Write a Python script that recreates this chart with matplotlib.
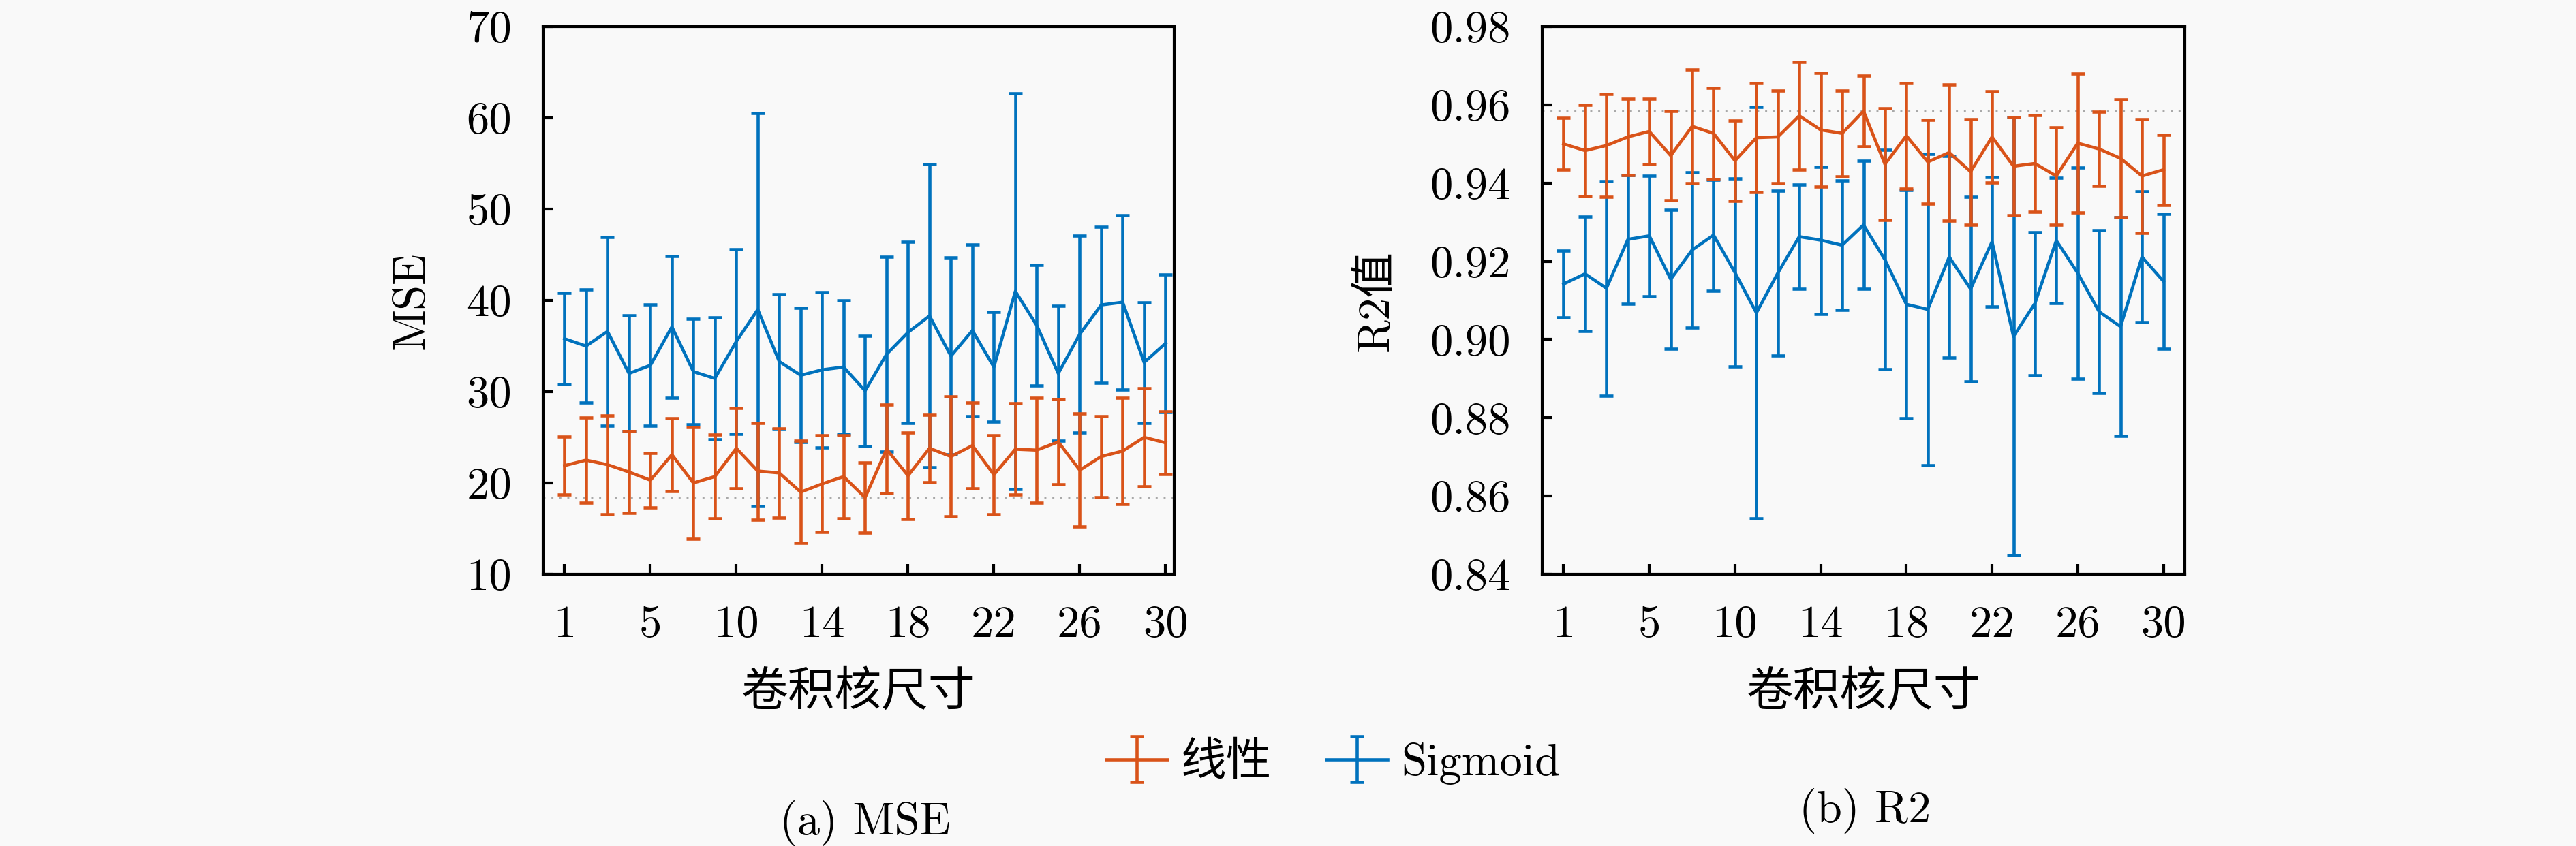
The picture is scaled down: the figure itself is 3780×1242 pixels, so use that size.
import matplotlib
matplotlib.use("Agg")
import matplotlib.pyplot as plt
import numpy as np

#Fonts: Computer Modern for latin, CJK fallback for the Chinese labels
plt.rcParams['font.family'] = ['cmr10', 'Noto Sans CJK SC']
plt.rcParams['mathtext.fontset'] = 'cm'
plt.rcParams['axes.unicode_minus'] = False
plt.rcParams['axes.formatter.use_mathtext'] = True

#Data
#--------------------------------------------------------
kernel_pos = np.arange(1, 30)
tick_pos = [1, 5, 9, 13, 17, 21, 25, 29]
tick_labels = ['1', '5', '10', '14', '18', '22', '26', '30']

mse_lin_mean = [21.9, 22.5, 22.0, 21.2, 20.3, 23.1, 20.0, 20.7, 23.8, 21.3,
                21.1, 19.0, 19.9, 20.7, 18.4, 23.7, 20.8, 23.8, 22.9, 24.1,
                20.9, 23.7, 23.6, 24.5, 21.4, 22.9, 23.5, 25.0, 24.4]
mse_lin_std = [3.2, 4.7, 5.4, 4.5, 3.0, 4.0, 6.1, 4.6, 4.4, 5.3,
               4.9, 5.6, 5.3, 4.55, 3.85, 4.85, 4.75, 3.7, 6.55, 4.7,
               4.35, 5.0, 5.75, 4.65, 6.2, 4.45, 5.85, 5.35, 3.45]
mse_sig_mean = [35.8, 35.0, 36.6, 32.0, 32.9, 37.1, 32.2, 31.45, 35.5, 39.0,
                33.3, 31.8, 32.4, 32.7, 30.1, 34.1, 36.5, 38.3, 33.9, 36.7,
                32.7, 41.0, 37.25, 32.0, 36.3, 39.5, 39.8, 33.2, 35.3]
mse_sig_std = [5.0, 6.2, 10.35, 6.35, 6.65, 7.75, 5.75, 6.7, 10.1, 21.5,
               7.4, 7.35, 8.5, 7.3, 6.05, 10.7, 9.9, 16.6, 10.8, 9.4,
               6.0, 21.7, 6.6, 7.4, 10.8, 8.55, 9.55, 6.6, 7.55]

r2_lin_mean = [0.9500, 0.9483, 0.9496, 0.9518, 0.9532, 0.9470, 0.9545, 0.9527,
               0.9457, 0.9516, 0.9518, 0.9572, 0.9536, 0.9527, 0.9584, 0.9448,
               0.9521, 0.9454, 0.9478, 0.9429, 0.9518, 0.9443, 0.9450, 0.9418,
               0.9502, 0.9487, 0.9463, 0.9418, 0.9434]
r2_lin_std = [0.0066, 0.0116, 0.0132, 0.0097, 0.0083, 0.0114, 0.0145, 0.0117,
              0.0103, 0.0139, 0.0119, 0.0138, 0.0146, 0.0110, 0.0090, 0.0143,
              0.0135, 0.0107, 0.0174, 0.0135, 0.0117, 0.0125, 0.0123, 0.0125,
              0.0177, 0.0095, 0.0150, 0.0145, 0.0090]
r2_sig_mean = [0.9142, 0.9168, 0.9131, 0.9256, 0.9265, 0.9154, 0.9229, 0.9267,
               0.9171, 0.9068, 0.9170, 0.9263, 0.9254, 0.9241, 0.9293, 0.9204,
               0.9090, 0.9077, 0.9211, 0.9129, 0.9250, 0.9008, 0.9092, 0.9253,
               0.9170, 0.9071, 0.9033, 0.9211, 0.9149]
r2_sig_std = [0.0085, 0.0147, 0.0274, 0.0165, 0.0154, 0.0177, 0.0199, 0.0142,
              0.0240, 0.0526, 0.0211, 0.0133, 0.0188, 0.0165, 0.0164, 0.0280,
              0.0292, 0.0398, 0.0258, 0.0236, 0.0166, 0.0560, 0.0183, 0.0160,
              0.0270, 0.0208, 0.0279, 0.0167, 0.0173]

mse_yticks = [10, 20, 30, 40, 50, 60, 70]
r2_yticks = [0.84, 0.86, 0.88, 0.90, 0.92, 0.94, 0.96, 0.98]

lin_color = '#D95319'
sig_color = '#0072BD'
bg = '#f9f9f9'
fs = 16

#Figure
#--------------------------------------------------------
W, H = 3780, 1242
fig = plt.figure(figsize=(W / 300, H / 300), dpi=300, facecolor=bg)
ax1 = fig.add_axes([797 / W, 1 - 843 / H, 926 / W, 804 / H], facecolor=bg)
ax2 = fig.add_axes([2263 / W, 1 - 843 / H, 943 / W, 804 / H], facecolor=bg)

def draw(ax, lin_m, lin_s, sig_m, sig_s, best, yticks, ylabels, ylabel, xlim):
    ax.axhline(best, color='#a8a8a8', lw=0.7, ls=(0, (1, 3)), zorder=1)
    hs = ax.errorbar(kernel_pos, sig_m, yerr=sig_s, color=sig_color, lw=1.1,
                     elinewidth=1.1, capsize=2.3, capthick=1.1, zorder=2)
    hl = ax.errorbar(kernel_pos, lin_m, yerr=lin_s, color=lin_color, lw=1.1,
                     elinewidth=1.1, capsize=2.3, capthick=1.1, zorder=3)
    ax.set_xlim(*xlim)
    ax.set_ylim(yticks[0], yticks[-1])
    ax.set_xticks(tick_pos)
    ax.set_xticklabels(tick_labels, fontsize=fs)
    ax.set_yticks(yticks)
    ax.set_yticklabels(ylabels, fontsize=fs)
    ax.tick_params(direction='in', length=3.6, width=1.0, top=False,
                   right=False, pad=11)
    for s in ax.spines.values():
        s.set_linewidth(1.0)
    ax.set_xlabel('卷积核尺寸', fontsize=fs + 0.5, va='center')
    ax.xaxis.set_label_coords(0.5, -0.216)
    ax.set_ylabel(ylabel, fontsize=fs, va='center')
    return hl, hs

hl, hs = draw(ax1, mse_lin_mean, mse_lin_std, mse_sig_mean, mse_sig_std,
              min(mse_lin_mean), mse_yticks, [str(v) for v in mse_yticks],
              'MSE', (0, 29.4))
ax1.yaxis.set_label_coords(-0.207, 0.5)

draw(ax2, r2_lin_mean, r2_lin_std, r2_sig_mean, r2_sig_std,
     max(r2_lin_mean), r2_yticks, ['%.2f' % v for v in r2_yticks],
     'R2值', (0, 30))
ax2.yaxis.set_label_coords(-0.259, 0.5)

fig.legend([hl, hs], ['线性', 'Sigmoid'], ncol=2, loc='center',
           bbox_to_anchor=(1956 / W, 1 - 1121 / H), frameon=False,
           fontsize=fs, handlelength=1.35, handletextpad=0.3,
           columnspacing=1.2)

fig.text(1269 / W, 1 - 1225 / H, '(a) MSE', ha='center', va='baseline',
         fontsize=fs)
fig.text(2737 / W, 1 - 1207 / H, '(b) R2', ha='center', va='baseline',
         fontsize=fs)

fig.savefig('out.png', dpi=300, facecolor=bg)
